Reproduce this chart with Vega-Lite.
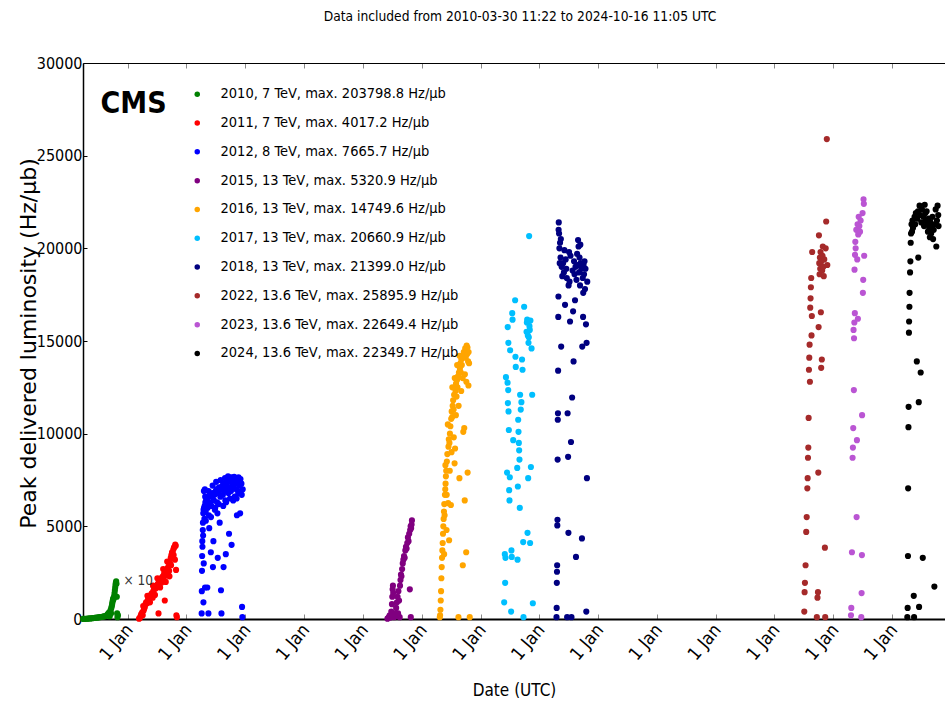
{
  "$schema": "https://vega.github.io/schema/vega-lite/v6.json",
  "width": 862,
  "height": 556,
  "autosize": {"type": "none"},
  "padding": {"left": 83, "top": 63, "right": 0, "bottom": 96},
  "background": "white",
  "title": {
    "text": "Data included from 2010-03-30 11:22 to 2024-10-16 11:05 UTC",
    "font": "Liberation Sans Narrow, DejaVu Sans Condensed, Liberation Sans",
    "fontSize": 13.7,
    "fontWeight": "normal",
    "color": "black",
    "anchor": "middle",
    "offset": 31,
    "dx": 6
  },
  "datasets": {
    "runs": [
      {"r": "2010", "label": "2010, 7 TeV, max. 203798.8 Hz/μb"},
      {"r": "2011", "label": "2011, 7 TeV, max. 4017.2 Hz/μb"},
      {"r": "2012", "label": "2012, 8 TeV, max. 7665.7 Hz/μb"},
      {"r": "2015", "label": "2015, 13 TeV, max. 5320.9 Hz/μb"},
      {"r": "2016", "label": "2016, 13 TeV, max. 14749.6 Hz/μb"},
      {"r": "2017", "label": "2017, 13 TeV, max. 20660.9 Hz/μb"},
      {"r": "2018", "label": "2018, 13 TeV, max. 21399.0 Hz/μb"},
      {"r": "2022", "label": "2022, 13.6 TeV, max. 25895.9 Hz/μb"},
      {"r": "2023", "label": "2023, 13.6 TeV, max. 22649.4 Hz/μb"},
      {"r": "2024", "label": "2024, 13.6 TeV, max. 22349.7 Hz/μb"}
    ],
    "lumi": [
      {"t": "2010-03-31", "v": 5, "r": "2010"},
      {"t": "2010-04-05", "v": 8, "r": "2010"},
      {"t": "2010-04-12", "v": 10, "r": "2010"},
      {"t": "2010-04-20", "v": 15, "r": "2010"},
      {"t": "2010-04-28", "v": 20, "r": "2010"},
      {"t": "2010-05-05", "v": 25, "r": "2010"},
      {"t": "2010-05-12", "v": 30, "r": "2010"},
      {"t": "2010-05-20", "v": 35, "r": "2010"},
      {"t": "2010-05-28", "v": 45, "r": "2010"},
      {"t": "2010-06-05", "v": 55, "r": "2010"},
      {"t": "2010-06-12", "v": 60, "r": "2010"},
      {"t": "2010-06-20", "v": 70, "r": "2010"},
      {"t": "2010-06-28", "v": 80, "r": "2010"},
      {"t": "2010-07-05", "v": 90, "r": "2010"},
      {"t": "2010-07-12", "v": 100, "r": "2010"},
      {"t": "2010-07-20", "v": 110, "r": "2010"},
      {"t": "2010-07-28", "v": 120, "r": "2010"},
      {"t": "2010-08-05", "v": 140, "r": "2010"},
      {"t": "2010-08-12", "v": 150, "r": "2010"},
      {"t": "2010-08-20", "v": 170, "r": "2010"},
      {"t": "2010-08-25", "v": 200, "r": "2010"},
      {"t": "2010-08-30", "v": 250, "r": "2010"},
      {"t": "2010-09-04", "v": 300, "r": "2010"},
      {"t": "2010-09-08", "v": 350, "r": "2010"},
      {"t": "2010-09-12", "v": 150, "r": "2010"},
      {"t": "2010-09-15", "v": 400, "r": "2010"},
      {"t": "2010-09-18", "v": 500, "r": "2010"},
      {"t": "2010-09-20", "v": 300, "r": "2010"},
      {"t": "2010-09-22", "v": 600, "r": "2010"},
      {"t": "2010-09-25", "v": 700, "r": "2010"},
      {"t": "2010-09-27", "v": 800, "r": "2010"},
      {"t": "2010-09-29", "v": 900, "r": "2010"},
      {"t": "2010-10-01", "v": 1000, "r": "2010"},
      {"t": "2010-10-03", "v": 1100, "r": "2010"},
      {"t": "2010-10-05", "v": 1050, "r": "2010"},
      {"t": "2010-10-08", "v": 1150, "r": "2010"},
      {"t": "2010-10-10", "v": 1250, "r": "2010"},
      {"t": "2010-10-12", "v": 1400, "r": "2010"},
      {"t": "2010-10-14", "v": 1550, "r": "2010"},
      {"t": "2010-10-16", "v": 1700, "r": "2010"},
      {"t": "2010-10-18", "v": 1850, "r": "2010"},
      {"t": "2010-10-20", "v": 1950, "r": "2010"},
      {"t": "2010-10-22", "v": 2037.988, "r": "2010"},
      {"t": "2010-10-24", "v": 1900, "r": "2010"},
      {"t": "2010-10-26", "v": 1200, "r": "2010"},
      {"t": "2010-10-28", "v": 300, "r": "2010"},
      {"t": "2010-10-30", "v": 100, "r": "2010"},
      {"t": "2010-11-02", "v": 200, "r": "2010"},

      {"t": "2011-03-13", "v": 20, "r": "2011"},
      {"t": "2011-03-18", "v": 50, "r": "2011"},
      {"t": "2011-03-22", "v": 150, "r": "2011"},
      {"t": "2011-03-26", "v": 250, "r": "2011"},
      {"t": "2011-04-01", "v": 350, "r": "2011"},
      {"t": "2011-04-05", "v": 200, "r": "2011"},
      {"t": "2011-04-08", "v": 700, "r": "2011"},
      {"t": "2011-04-10", "v": 450, "r": "2011"},
      {"t": "2011-04-14", "v": 550, "r": "2011"},
      {"t": "2011-04-18", "v": 650, "r": "2011"},
      {"t": "2011-04-22", "v": 800, "r": "2011"},
      {"t": "2011-04-26", "v": 900, "r": "2011"},
      {"t": "2011-05-02", "v": 850, "r": "2011"},
      {"t": "2011-05-04", "v": 1250, "r": "2011"},
      {"t": "2011-05-06", "v": 1000, "r": "2011"},
      {"t": "2011-05-10", "v": 1100, "r": "2011"},
      {"t": "2011-05-14", "v": 950, "r": "2011"},
      {"t": "2011-05-18", "v": 1200, "r": "2011"},
      {"t": "2011-05-20", "v": 900, "r": "2011"},
      {"t": "2011-05-24", "v": 1250, "r": "2011"},
      {"t": "2011-05-28", "v": 1350, "r": "2011"},
      {"t": "2011-06-02", "v": 1400, "r": "2011"},
      {"t": "2011-06-06", "v": 1150, "r": "2011"},
      {"t": "2011-06-08", "v": 1800, "r": "2011"},
      {"t": "2011-06-10", "v": 1500, "r": "2011"},
      {"t": "2011-06-14", "v": 1600, "r": "2011"},
      {"t": "2011-06-18", "v": 1700, "r": "2011"},
      {"t": "2011-06-20", "v": 1300, "r": "2011"},
      {"t": "2011-06-24", "v": 1650, "r": "2011"},
      {"t": "2011-06-28", "v": 1750, "r": "2011"},
      {"t": "2011-07-03", "v": 1800, "r": "2011"},
      {"t": "2011-07-05", "v": 2200, "r": "2011"},
      {"t": "2011-07-08", "v": 1900, "r": "2011"},
      {"t": "2011-07-12", "v": 300, "r": "2011"},
      {"t": "2011-07-16", "v": 2000, "r": "2011"},
      {"t": "2011-07-20", "v": 2100, "r": "2011"},
      {"t": "2011-07-22", "v": 1700, "r": "2011"},
      {"t": "2011-07-25", "v": 2200, "r": "2011"},
      {"t": "2011-07-30", "v": 1950, "r": "2011"},
      {"t": "2011-08-04", "v": 2100, "r": "2011"},
      {"t": "2011-08-08", "v": 2300, "r": "2011"},
      {"t": "2011-08-10", "v": 2700, "r": "2011"},
      {"t": "2011-08-12", "v": 2200, "r": "2011"},
      {"t": "2011-08-16", "v": 2450, "r": "2011"},
      {"t": "2011-08-20", "v": 1000, "r": "2011"},
      {"t": "2011-08-24", "v": 2550, "r": "2011"},
      {"t": "2011-08-26", "v": 2000, "r": "2011"},
      {"t": "2011-08-28", "v": 2350, "r": "2011"},
      {"t": "2011-09-02", "v": 2650, "r": "2011"},
      {"t": "2011-09-04", "v": 3100, "r": "2011"},
      {"t": "2011-09-06", "v": 2750, "r": "2011"},
      {"t": "2011-09-10", "v": 2500, "r": "2011"},
      {"t": "2011-09-14", "v": 2850, "r": "2011"},
      {"t": "2011-09-16", "v": 2600, "r": "2011"},
      {"t": "2011-09-18", "v": 2300, "r": "2011"},
      {"t": "2011-09-22", "v": 3000, "r": "2011"},
      {"t": "2011-09-26", "v": 3300, "r": "2011"},
      {"t": "2011-09-28", "v": 2900, "r": "2011"},
      {"t": "2011-09-30", "v": 3450, "r": "2011"},
      {"t": "2011-10-04", "v": 3600, "r": "2011"},
      {"t": "2011-10-06", "v": 3300, "r": "2011"},
      {"t": "2011-10-08", "v": 3550, "r": "2011"},
      {"t": "2011-10-12", "v": 3750, "r": "2011"},
      {"t": "2011-10-14", "v": 3450, "r": "2011"},
      {"t": "2011-10-16", "v": 3850, "r": "2011"},
      {"t": "2011-10-20", "v": 3900, "r": "2011"},
      {"t": "2011-10-22", "v": 3200, "r": "2011"},
      {"t": "2011-10-24", "v": 4017.2, "r": "2011"},
      {"t": "2011-10-27", "v": 3950, "r": "2011"},
      {"t": "2011-10-29", "v": 2650, "r": "2011"},
      {"t": "2011-10-31", "v": 200, "r": "2011"},
      {"t": "2011-11-03", "v": 100, "r": "2011"},

      {"t": "2012-04-05", "v": 300, "r": "2012"},
      {"t": "2012-04-06", "v": 1500, "r": "2012"},
      {"t": "2012-04-07", "v": 2600, "r": "2012"},
      {"t": "2012-04-08", "v": 3400, "r": "2012"},
      {"t": "2012-04-09", "v": 4200, "r": "2012"},
      {"t": "2012-04-10", "v": 3900, "r": "2012"},
      {"t": "2012-04-12", "v": 4800, "r": "2012"},
      {"t": "2012-04-13", "v": 5200, "r": "2012"},
      {"t": "2012-04-14", "v": 4500, "r": "2012"},
      {"t": "2012-04-15", "v": 5700, "r": "2012"},
      {"t": "2012-04-16", "v": 900, "r": "2012"},
      {"t": "2012-04-17", "v": 5900, "r": "2012"},
      {"t": "2012-04-18", "v": 3000, "r": "2012"},
      {"t": "2012-04-19", "v": 6900, "r": "2012"},
      {"t": "2012-04-20", "v": 6000, "r": "2012"},
      {"t": "2012-04-22", "v": 5400, "r": "2012"},
      {"t": "2012-04-24", "v": 6100, "r": "2012"},
      {"t": "2012-04-25", "v": 7000, "r": "2012"},
      {"t": "2012-04-26", "v": 1700, "r": "2012"},
      {"t": "2012-04-27", "v": 6600, "r": "2012"},
      {"t": "2012-04-28", "v": 6300, "r": "2012"},
      {"t": "2012-04-30", "v": 5800, "r": "2012"},
      {"t": "2012-05-01", "v": 5300, "r": "2012"},
      {"t": "2012-05-03", "v": 6400, "r": "2012"},
      {"t": "2012-05-05", "v": 6200, "r": "2012"},
      {"t": "2012-05-08", "v": 6500, "r": "2012"},
      {"t": "2012-05-10", "v": 1700, "r": "2012"},
      {"t": "2012-05-12", "v": 6000, "r": "2012"},
      {"t": "2012-05-15", "v": 6600, "r": "2012"},
      {"t": "2012-05-17", "v": 300, "r": "2012"},
      {"t": "2012-05-18", "v": 6900, "r": "2012"},
      {"t": "2012-05-20", "v": 5600, "r": "2012"},
      {"t": "2012-05-22", "v": 4900, "r": "2012"},
      {"t": "2012-05-25", "v": 6300, "r": "2012"},
      {"t": "2012-05-28", "v": 6700, "r": "2012"},
      {"t": "2012-06-01", "v": 3600, "r": "2012"},
      {"t": "2012-06-02", "v": 5500, "r": "2012"},
      {"t": "2012-06-04", "v": 6100, "r": "2012"},
      {"t": "2012-06-07", "v": 6600, "r": "2012"},
      {"t": "2012-06-10", "v": 6800, "r": "2012"},
      {"t": "2012-06-12", "v": 7200, "r": "2012"},
      {"t": "2012-06-14", "v": 2800, "r": "2012"},
      {"t": "2012-06-17", "v": 4200, "r": "2012"},
      {"t": "2012-06-20", "v": 6400, "r": "2012"},
      {"t": "2012-06-24", "v": 6700, "r": "2012"},
      {"t": "2012-06-26", "v": 5900, "r": "2012"},
      {"t": "2012-06-28", "v": 6000, "r": "2012"},
      {"t": "2012-07-02", "v": 6900, "r": "2012"},
      {"t": "2012-07-04", "v": 7400, "r": "2012"},
      {"t": "2012-07-06", "v": 7000, "r": "2012"},
      {"t": "2012-07-10", "v": 6300, "r": "2012"},
      {"t": "2012-07-12", "v": 5700, "r": "2012"},
      {"t": "2012-07-14", "v": 3300, "r": "2012"},
      {"t": "2012-07-18", "v": 6800, "r": "2012"},
      {"t": "2012-07-20", "v": 6200, "r": "2012"},
      {"t": "2012-07-22", "v": 7100, "r": "2012"},
      {"t": "2012-07-26", "v": 5200, "r": "2012"},
      {"t": "2012-07-30", "v": 6600, "r": "2012"},
      {"t": "2012-08-01", "v": 7500, "r": "2012"},
      {"t": "2012-08-03", "v": 1550, "r": "2012"},
      {"t": "2012-08-06", "v": 300, "r": "2012"},
      {"t": "2012-08-09", "v": 7000, "r": "2012"},
      {"t": "2012-08-12", "v": 7200, "r": "2012"},
      {"t": "2012-08-15", "v": 6700, "r": "2012"},
      {"t": "2012-08-17", "v": 6100, "r": "2012"},
      {"t": "2012-08-19", "v": 2800, "r": "2012"},
      {"t": "2012-08-23", "v": 6900, "r": "2012"},
      {"t": "2012-08-26", "v": 7300, "r": "2012"},
      {"t": "2012-08-28", "v": 7600, "r": "2012"},
      {"t": "2012-08-30", "v": 6400, "r": "2012"},
      {"t": "2012-09-02", "v": 3500, "r": "2012"},
      {"t": "2012-09-04", "v": 6300, "r": "2012"},
      {"t": "2012-09-06", "v": 7200, "r": "2012"},
      {"t": "2012-09-10", "v": 7000, "r": "2012"},
      {"t": "2012-09-14", "v": 7400, "r": "2012"},
      {"t": "2012-09-16", "v": 7700, "r": "2012"},
      {"t": "2012-09-18", "v": 6800, "r": "2012"},
      {"t": "2012-09-22", "v": 4600, "r": "2012"},
      {"t": "2012-09-26", "v": 7100, "r": "2012"},
      {"t": "2012-09-28", "v": 6500, "r": "2012"},
      {"t": "2012-09-30", "v": 7500, "r": "2012"},
      {"t": "2012-10-04", "v": 6900, "r": "2012"},
      {"t": "2012-10-06", "v": 7650, "r": "2012"},
      {"t": "2012-10-08", "v": 4000, "r": "2012"},
      {"t": "2012-10-12", "v": 7300, "r": "2012"},
      {"t": "2012-10-16", "v": 7600, "r": "2012"},
      {"t": "2012-10-18", "v": 6400, "r": "2012"},
      {"t": "2012-10-20", "v": 7100, "r": "2012"},
      {"t": "2012-10-24", "v": 7665.7, "r": "2012"},
      {"t": "2012-10-28", "v": 6600, "r": "2012"},
      {"t": "2012-10-30", "v": 7600, "r": "2012"},
      {"t": "2012-11-02", "v": 7400, "r": "2012"},
      {"t": "2012-11-06", "v": 7000, "r": "2012"},
      {"t": "2012-11-08", "v": 6500, "r": "2012"},
      {"t": "2012-11-10", "v": 5600, "r": "2012"},
      {"t": "2012-11-14", "v": 7300, "r": "2012"},
      {"t": "2012-11-18", "v": 6800, "r": "2012"},
      {"t": "2012-11-20", "v": 7650, "r": "2012"},
      {"t": "2012-11-22", "v": 7500, "r": "2012"},
      {"t": "2012-11-26", "v": 7200, "r": "2012"},
      {"t": "2012-11-30", "v": 5700, "r": "2012"},
      {"t": "2012-12-02", "v": 7550, "r": "2012"},
      {"t": "2012-12-04", "v": 6900, "r": "2012"},
      {"t": "2012-12-08", "v": 7300, "r": "2012"},
      {"t": "2012-12-10", "v": 6700, "r": "2012"},
      {"t": "2012-12-12", "v": 650, "r": "2012"},
      {"t": "2012-12-14", "v": 100, "r": "2012"},
      {"t": "2012-12-16", "v": 7000, "r": "2012"},

      {"t": "2015-06-03", "v": 20, "r": "2015"},
      {"t": "2015-06-08", "v": 50, "r": "2015"},
      {"t": "2015-06-12", "v": 100, "r": "2015"},
      {"t": "2015-06-17", "v": 200, "r": "2015"},
      {"t": "2015-06-22", "v": 80, "r": "2015"},
      {"t": "2015-06-27", "v": 400, "r": "2015"},
      {"t": "2015-07-01", "v": 800, "r": "2015"},
      {"t": "2015-07-03", "v": 1200, "r": "2015"},
      {"t": "2015-07-05", "v": 1600, "r": "2015"},
      {"t": "2015-07-07", "v": 1800, "r": "2015"},
      {"t": "2015-07-09", "v": 1400, "r": "2015"},
      {"t": "2015-07-11", "v": 300, "r": "2015"},
      {"t": "2015-07-15", "v": 100, "r": "2015"},
      {"t": "2015-07-22", "v": 200, "r": "2015"},
      {"t": "2015-07-27", "v": 600, "r": "2015"},
      {"t": "2015-08-01", "v": 900, "r": "2015"},
      {"t": "2015-08-05", "v": 1200, "r": "2015"},
      {"t": "2015-08-08", "v": 300, "r": "2015"},
      {"t": "2015-08-10", "v": 1500, "r": "2015"},
      {"t": "2015-08-14", "v": 1000, "r": "2015"},
      {"t": "2015-08-18", "v": 100, "r": "2015"},
      {"t": "2015-08-20", "v": 1800, "r": "2015"},
      {"t": "2015-08-23", "v": 2100, "r": "2015"},
      {"t": "2015-08-26", "v": 2400, "r": "2015"},
      {"t": "2015-08-29", "v": 2300, "r": "2015"},
      {"t": "2015-09-02", "v": 2700, "r": "2015"},
      {"t": "2015-09-06", "v": 3000, "r": "2015"},
      {"t": "2015-09-10", "v": 3200, "r": "2015"},
      {"t": "2015-09-14", "v": 3400, "r": "2015"},
      {"t": "2015-09-18", "v": 3300, "r": "2015"},
      {"t": "2015-09-22", "v": 3700, "r": "2015"},
      {"t": "2015-09-26", "v": 3900, "r": "2015"},
      {"t": "2015-09-30", "v": 3800, "r": "2015"},
      {"t": "2015-10-04", "v": 4100, "r": "2015"},
      {"t": "2015-10-08", "v": 4400, "r": "2015"},
      {"t": "2015-10-12", "v": 4200, "r": "2015"},
      {"t": "2015-10-16", "v": 4600, "r": "2015"},
      {"t": "2015-10-20", "v": 1600, "r": "2015"},
      {"t": "2015-10-22", "v": 4800, "r": "2015"},
      {"t": "2015-10-25", "v": 5000, "r": "2015"},
      {"t": "2015-10-26", "v": 100, "r": "2015"},
      {"t": "2015-10-28", "v": 4900, "r": "2015"},
      {"t": "2015-10-31", "v": 5100, "r": "2015"},
      {"t": "2015-11-02", "v": 5320.9, "r": "2015"},

      {"t": "2016-04-23", "v": 100, "r": "2016"},
      {"t": "2016-04-25", "v": 200, "r": "2016"},
      {"t": "2016-04-27", "v": 500, "r": "2016"},
      {"t": "2016-04-29", "v": 1000, "r": "2016"},
      {"t": "2016-05-01", "v": 1500, "r": "2016"},
      {"t": "2016-05-03", "v": 2200, "r": "2016"},
      {"t": "2016-05-05", "v": 2800, "r": "2016"},
      {"t": "2016-05-07", "v": 3300, "r": "2016"},
      {"t": "2016-05-09", "v": 3700, "r": "2016"},
      {"t": "2016-05-11", "v": 4100, "r": "2016"},
      {"t": "2016-05-13", "v": 4600, "r": "2016"},
      {"t": "2016-05-15", "v": 5000, "r": "2016"},
      {"t": "2016-05-17", "v": 5400, "r": "2016"},
      {"t": "2016-05-19", "v": 5800, "r": "2016"},
      {"t": "2016-05-20", "v": 3500, "r": "2016"},
      {"t": "2016-05-21", "v": 6200, "r": "2016"},
      {"t": "2016-05-23", "v": 5600, "r": "2016"},
      {"t": "2016-05-25", "v": 6700, "r": "2016"},
      {"t": "2016-05-27", "v": 7000, "r": "2016"},
      {"t": "2016-05-28", "v": 8300, "r": "2016"},
      {"t": "2016-05-29", "v": 7300, "r": "2016"},
      {"t": "2016-05-31", "v": 7700, "r": "2016"},
      {"t": "2016-06-02", "v": 8000, "r": "2016"},
      {"t": "2016-06-04", "v": 4800, "r": "2016"},
      {"t": "2016-06-05", "v": 6700, "r": "2016"},
      {"t": "2016-06-06", "v": 8500, "r": "2016"},
      {"t": "2016-06-09", "v": 8900, "r": "2016"},
      {"t": "2016-06-12", "v": 10500, "r": "2016"},
      {"t": "2016-06-14", "v": 6250, "r": "2016"},
      {"t": "2016-06-16", "v": 9300, "r": "2016"},
      {"t": "2016-06-18", "v": 9700, "r": "2016"},
      {"t": "2016-06-20", "v": 4250, "r": "2016"},
      {"t": "2016-06-22", "v": 9500, "r": "2016"},
      {"t": "2016-06-24", "v": 8000, "r": "2016"},
      {"t": "2016-06-25", "v": 10000, "r": "2016"},
      {"t": "2016-06-28", "v": 10400, "r": "2016"},
      {"t": "2016-07-01", "v": 6150, "r": "2016"},
      {"t": "2016-07-03", "v": 10800, "r": "2016"},
      {"t": "2016-07-05", "v": 9000, "r": "2016"},
      {"t": "2016-07-06", "v": 11200, "r": "2016"},
      {"t": "2016-07-09", "v": 10900, "r": "2016"},
      {"t": "2016-07-10", "v": 12500, "r": "2016"},
      {"t": "2016-07-12", "v": 11500, "r": "2016"},
      {"t": "2016-07-15", "v": 11800, "r": "2016"},
      {"t": "2016-07-18", "v": 11300, "r": "2016"},
      {"t": "2016-07-19", "v": 9800, "r": "2016"},
      {"t": "2016-07-21", "v": 12100, "r": "2016"},
      {"t": "2016-07-24", "v": 8400, "r": "2016"},
      {"t": "2016-07-25", "v": 13000, "r": "2016"},
      {"t": "2016-07-27", "v": 9200, "r": "2016"},
      {"t": "2016-07-30", "v": 12300, "r": "2016"},
      {"t": "2016-08-01", "v": 11000, "r": "2016"},
      {"t": "2016-08-02", "v": 12700, "r": "2016"},
      {"t": "2016-08-05", "v": 12000, "r": "2016"},
      {"t": "2016-08-08", "v": 12900, "r": "2016"},
      {"t": "2016-08-09", "v": 13700, "r": "2016"},
      {"t": "2016-08-11", "v": 12500, "r": "2016"},
      {"t": "2016-08-14", "v": 13100, "r": "2016"},
      {"t": "2016-08-17", "v": 100, "r": "2016"},
      {"t": "2016-08-18", "v": 11500, "r": "2016"},
      {"t": "2016-08-20", "v": 13300, "r": "2016"},
      {"t": "2016-08-23", "v": 7600, "r": "2016"},
      {"t": "2016-08-24", "v": 14200, "r": "2016"},
      {"t": "2016-08-26", "v": 13500, "r": "2016"},
      {"t": "2016-08-29", "v": 13800, "r": "2016"},
      {"t": "2016-09-01", "v": 13300, "r": "2016"},
      {"t": "2016-09-03", "v": 12300, "r": "2016"},
      {"t": "2016-09-04", "v": 14000, "r": "2016"},
      {"t": "2016-09-07", "v": 13700, "r": "2016"},
      {"t": "2016-09-10", "v": 14200, "r": "2016"},
      {"t": "2016-09-12", "v": 13000, "r": "2016"},
      {"t": "2016-09-13", "v": 2900, "r": "2016"},
      {"t": "2016-09-16", "v": 10100, "r": "2016"},
      {"t": "2016-09-19", "v": 14400, "r": "2016"},
      {"t": "2016-09-22", "v": 10300, "r": "2016"},
      {"t": "2016-09-25", "v": 6400, "r": "2016"},
      {"t": "2016-09-26", "v": 13200, "r": "2016"},
      {"t": "2016-09-28", "v": 14600, "r": "2016"},
      {"t": "2016-10-01", "v": 14100, "r": "2016"},
      {"t": "2016-10-04", "v": 3600, "r": "2016"},
      {"t": "2016-10-05", "v": 12800, "r": "2016"},
      {"t": "2016-10-07", "v": 14749.6, "r": "2016"},
      {"t": "2016-10-10", "v": 14300, "r": "2016"},
      {"t": "2016-10-12", "v": 14650, "r": "2016"},
      {"t": "2016-10-13", "v": 7900, "r": "2016"},
      {"t": "2016-10-16", "v": 13900, "r": "2016"},
      {"t": "2016-10-18", "v": 12600, "r": "2016"},
      {"t": "2016-10-19", "v": 14400, "r": "2016"},
      {"t": "2016-10-22", "v": 13800, "r": "2016"},
      {"t": "2016-10-26", "v": 100, "r": "2016"},

      {"t": "2017-05-28", "v": 900, "r": "2017"},
      {"t": "2017-06-01", "v": 3500, "r": "2017"},
      {"t": "2017-06-03", "v": 1950, "r": "2017"},
      {"t": "2017-06-05", "v": 3300, "r": "2017"},
      {"t": "2017-06-08", "v": 13050, "r": "2017"},
      {"t": "2017-06-15", "v": 7900, "r": "2017"},
      {"t": "2017-06-18", "v": 12750, "r": "2017"},
      {"t": "2017-06-19", "v": 15750, "r": "2017"},
      {"t": "2017-06-20", "v": 11650, "r": "2017"},
      {"t": "2017-06-22", "v": 12350, "r": "2017"},
      {"t": "2017-06-23", "v": 14900, "r": "2017"},
      {"t": "2017-06-24", "v": 11200, "r": "2017"},
      {"t": "2017-06-26", "v": 10200, "r": "2017"},
      {"t": "2017-06-28", "v": 6950, "r": "2017"},
      {"t": "2017-06-30", "v": 6400, "r": "2017"},
      {"t": "2017-07-02", "v": 7650, "r": "2017"},
      {"t": "2017-07-04", "v": 14500, "r": "2017"},
      {"t": "2017-07-10", "v": 400, "r": "2017"},
      {"t": "2017-07-12", "v": 3700, "r": "2017"},
      {"t": "2017-07-14", "v": 3350, "r": "2017"},
      {"t": "2017-07-17", "v": 16500, "r": "2017"},
      {"t": "2017-07-19", "v": 16150, "r": "2017"},
      {"t": "2017-07-23", "v": 9650, "r": "2017"},
      {"t": "2017-08-04", "v": 17200, "r": "2017"},
      {"t": "2017-08-06", "v": 14150, "r": "2017"},
      {"t": "2017-08-08", "v": 13600, "r": "2017"},
      {"t": "2017-08-17", "v": 8150, "r": "2017"},
      {"t": "2017-08-19", "v": 3200, "r": "2017"},
      {"t": "2017-08-21", "v": 7150, "r": "2017"},
      {"t": "2017-08-23", "v": 10750, "r": "2017"},
      {"t": "2017-08-25", "v": 10100, "r": "2017"},
      {"t": "2017-08-27", "v": 9500, "r": "2017"},
      {"t": "2017-08-29", "v": 9100, "r": "2017"},
      {"t": "2017-08-31", "v": 8600, "r": "2017"},
      {"t": "2017-09-02", "v": 6000, "r": "2017"},
      {"t": "2017-09-04", "v": 12100, "r": "2017"},
      {"t": "2017-09-08", "v": 11300, "r": "2017"},
      {"t": "2017-09-12", "v": 11700, "r": "2017"},
      {"t": "2017-09-16", "v": 14000, "r": "2017"},
      {"t": "2017-09-19", "v": 13450, "r": "2017"},
      {"t": "2017-09-23", "v": 4150, "r": "2017"},
      {"t": "2017-09-25", "v": 100, "r": "2017"},
      {"t": "2017-09-29", "v": 16850, "r": "2017"},
      {"t": "2017-10-14", "v": 15500, "r": "2017"},
      {"t": "2017-10-16", "v": 16000, "r": "2017"},
      {"t": "2017-10-18", "v": 16150, "r": "2017"},
      {"t": "2017-10-20", "v": 4650, "r": "2017"},
      {"t": "2017-10-22", "v": 15300, "r": "2017"},
      {"t": "2017-10-24", "v": 7600, "r": "2017"},
      {"t": "2017-10-26", "v": 14900, "r": "2017"},
      {"t": "2017-10-28", "v": 15200, "r": "2017"},
      {"t": "2017-10-30", "v": 20660.9, "r": "2017"},
      {"t": "2017-11-01", "v": 15800, "r": "2017"},
      {"t": "2017-11-03", "v": 15600, "r": "2017"},
      {"t": "2017-11-05", "v": 4100, "r": "2017"},
      {"t": "2017-11-07", "v": 16100, "r": "2017"},
      {"t": "2017-11-10", "v": 8200, "r": "2017"},
      {"t": "2017-11-14", "v": 14600, "r": "2017"},
      {"t": "2017-11-18", "v": 12100, "r": "2017"},
      {"t": "2017-11-22", "v": 850, "r": "2017"},

      {"t": "2018-04-18", "v": 100, "r": "2018"},
      {"t": "2018-04-19", "v": 600, "r": "2018"},
      {"t": "2018-04-20", "v": 1950, "r": "2018"},
      {"t": "2018-04-21", "v": 2550, "r": "2018"},
      {"t": "2018-04-22", "v": 2900, "r": "2018"},
      {"t": "2018-04-23", "v": 5050, "r": "2018"},
      {"t": "2018-04-24", "v": 5350, "r": "2018"},
      {"t": "2018-04-25", "v": 8600, "r": "2018"},
      {"t": "2018-04-26", "v": 10750, "r": "2018"},
      {"t": "2018-04-27", "v": 11100, "r": "2018"},
      {"t": "2018-04-28", "v": 13400, "r": "2018"},
      {"t": "2018-04-29", "v": 16300, "r": "2018"},
      {"t": "2018-04-30", "v": 17400, "r": "2018"},
      {"t": "2018-05-01", "v": 21000, "r": "2018"},
      {"t": "2018-05-02", "v": 21399.0, "r": "2018"},
      {"t": "2018-05-04", "v": 20800, "r": "2018"},
      {"t": "2018-05-06", "v": 20000, "r": "2018"},
      {"t": "2018-05-08", "v": 19200, "r": "2018"},
      {"t": "2018-05-10", "v": 20300, "r": "2018"},
      {"t": "2018-05-13", "v": 19500, "r": "2018"},
      {"t": "2018-05-15", "v": 20500, "r": "2018"},
      {"t": "2018-05-17", "v": 14700, "r": "2018"},
      {"t": "2018-05-20", "v": 19000, "r": "2018"},
      {"t": "2018-05-24", "v": 18500, "r": "2018"},
      {"t": "2018-05-29", "v": 19200, "r": "2018"},
      {"t": "2018-06-03", "v": 18700, "r": "2018"},
      {"t": "2018-06-06", "v": 19900, "r": "2018"},
      {"t": "2018-06-10", "v": 16950, "r": "2018"},
      {"t": "2018-06-14", "v": 19400, "r": "2018"},
      {"t": "2018-06-18", "v": 18900, "r": "2018"},
      {"t": "2018-06-21", "v": 18400, "r": "2018"},
      {"t": "2018-06-23", "v": 100, "r": "2018"},
      {"t": "2018-06-26", "v": 11100, "r": "2018"},
      {"t": "2018-06-29", "v": 8750, "r": "2018"},
      {"t": "2018-07-01", "v": 4650, "r": "2018"},
      {"t": "2018-07-02", "v": 18000, "r": "2018"},
      {"t": "2018-07-05", "v": 19800, "r": "2018"},
      {"t": "2018-07-08", "v": 18200, "r": "2018"},
      {"t": "2018-07-11", "v": 16050, "r": "2018"},
      {"t": "2018-07-14", "v": 19600, "r": "2018"},
      {"t": "2018-07-17", "v": 9550, "r": "2018"},
      {"t": "2018-07-20", "v": 100, "r": "2018"},
      {"t": "2018-07-24", "v": 11950, "r": "2018"},
      {"t": "2018-07-27", "v": 18800, "r": "2018"},
      {"t": "2018-07-30", "v": 16600, "r": "2018"},
      {"t": "2018-08-02", "v": 13900, "r": "2018"},
      {"t": "2018-08-05", "v": 19300, "r": "2018"},
      {"t": "2018-08-08", "v": 18600, "r": "2018"},
      {"t": "2018-08-11", "v": 17200, "r": "2018"},
      {"t": "2018-08-14", "v": 19000, "r": "2018"},
      {"t": "2018-08-17", "v": 3350, "r": "2018"},
      {"t": "2018-08-20", "v": 18300, "r": "2018"},
      {"t": "2018-08-24", "v": 19700, "r": "2018"},
      {"t": "2018-08-27", "v": 19100, "r": "2018"},
      {"t": "2018-08-30", "v": 20450, "r": "2018"},
      {"t": "2018-09-02", "v": 20100, "r": "2018"},
      {"t": "2018-09-05", "v": 18700, "r": "2018"},
      {"t": "2018-09-08", "v": 19500, "r": "2018"},
      {"t": "2018-09-11", "v": 18000, "r": "2018"},
      {"t": "2018-09-13", "v": 20200, "r": "2018"},
      {"t": "2018-09-15", "v": 19200, "r": "2018"},
      {"t": "2018-09-19", "v": 18900, "r": "2018"},
      {"t": "2018-09-23", "v": 4350, "r": "2018"},
      {"t": "2018-09-25", "v": 14700, "r": "2018"},
      {"t": "2018-09-28", "v": 18400, "r": "2018"},
      {"t": "2018-09-30", "v": 16300, "r": "2018"},
      {"t": "2018-10-01", "v": 17600, "r": "2018"},
      {"t": "2018-10-03", "v": 19100, "r": "2018"},
      {"t": "2018-10-06", "v": 18600, "r": "2018"},
      {"t": "2018-10-09", "v": 19300, "r": "2018"},
      {"t": "2018-10-12", "v": 17800, "r": "2018"},
      {"t": "2018-10-15", "v": 18900, "r": "2018"},
      {"t": "2018-10-18", "v": 15900, "r": "2018"},
      {"t": "2018-10-20", "v": 400, "r": "2018"},
      {"t": "2018-10-22", "v": 14900, "r": "2018"},
      {"t": "2018-10-24", "v": 7600, "r": "2018"},
      {"t": "2018-10-26", "v": 18200, "r": "2018"},

      {"t": "2022-07-05", "v": 400, "r": "2022"},
      {"t": "2022-07-07", "v": 1450, "r": "2022"},
      {"t": "2022-07-09", "v": 1950, "r": "2022"},
      {"t": "2022-07-13", "v": 2900, "r": "2022"},
      {"t": "2022-07-17", "v": 4700, "r": "2022"},
      {"t": "2022-07-20", "v": 5500, "r": "2022"},
      {"t": "2022-07-24", "v": 7050, "r": "2022"},
      {"t": "2022-07-26", "v": 7600, "r": "2022"},
      {"t": "2022-07-28", "v": 8700, "r": "2022"},
      {"t": "2022-07-30", "v": 9250, "r": "2022"},
      {"t": "2022-08-01", "v": 10850, "r": "2022"},
      {"t": "2022-08-03", "v": 13450, "r": "2022"},
      {"t": "2022-08-05", "v": 14100, "r": "2022"},
      {"t": "2022-08-07", "v": 14800, "r": "2022"},
      {"t": "2022-08-09", "v": 12800, "r": "2022"},
      {"t": "2022-08-11", "v": 16800, "r": "2022"},
      {"t": "2022-08-13", "v": 17300, "r": "2022"},
      {"t": "2022-08-15", "v": 17900, "r": "2022"},
      {"t": "2022-08-17", "v": 18400, "r": "2022"},
      {"t": "2022-08-19", "v": 15300, "r": "2022"},
      {"t": "2022-08-21", "v": 16350, "r": "2022"},
      {"t": "2022-08-23", "v": 19800, "r": "2022"},
      {"t": "2022-09-21", "v": 100, "r": "2022"},
      {"t": "2022-09-25", "v": 1150, "r": "2022"},
      {"t": "2022-09-28", "v": 1450, "r": "2022"},
      {"t": "2022-09-30", "v": 7900, "r": "2022"},
      {"t": "2022-10-02", "v": 15750, "r": "2022"},
      {"t": "2022-10-04", "v": 20700, "r": "2022"},
      {"t": "2022-10-06", "v": 19200, "r": "2022"},
      {"t": "2022-10-08", "v": 18600, "r": "2022"},
      {"t": "2022-10-10", "v": 19500, "r": "2022"},
      {"t": "2022-10-12", "v": 18900, "r": "2022"},
      {"t": "2022-10-14", "v": 19800, "r": "2022"},
      {"t": "2022-10-16", "v": 16550, "r": "2022"},
      {"t": "2022-10-18", "v": 13550, "r": "2022"},
      {"t": "2022-10-20", "v": 19300, "r": "2022"},
      {"t": "2022-10-22", "v": 14000, "r": "2022"},
      {"t": "2022-10-24", "v": 18800, "r": "2022"},
      {"t": "2022-10-26", "v": 19600, "r": "2022"},
      {"t": "2022-10-28", "v": 20100, "r": "2022"},
      {"t": "2022-10-31", "v": 19000, "r": "2022"},
      {"t": "2022-11-03", "v": 18500, "r": "2022"},
      {"t": "2022-11-06", "v": 19400, "r": "2022"},
      {"t": "2022-11-10", "v": 3850, "r": "2022"},
      {"t": "2022-11-12", "v": 100, "r": "2022"},
      {"t": "2022-11-15", "v": 20000, "r": "2022"},
      {"t": "2022-11-18", "v": 21450, "r": "2022"},
      {"t": "2022-11-22", "v": 25895.9, "r": "2022"},
      {"t": "2022-11-25", "v": 19100, "r": "2022"},

      {"t": "2023-04-21", "v": 200, "r": "2023"},
      {"t": "2023-04-23", "v": 600, "r": "2023"},
      {"t": "2023-04-27", "v": 3600, "r": "2023"},
      {"t": "2023-05-01", "v": 8700, "r": "2023"},
      {"t": "2023-05-03", "v": 9250, "r": "2023"},
      {"t": "2023-05-05", "v": 10300, "r": "2023"},
      {"t": "2023-05-07", "v": 15600, "r": "2023"},
      {"t": "2023-05-09", "v": 12350, "r": "2023"},
      {"t": "2023-05-10", "v": 15150, "r": "2023"},
      {"t": "2023-05-12", "v": 16000, "r": "2023"},
      {"t": "2023-05-13", "v": 18850, "r": "2023"},
      {"t": "2023-05-15", "v": 16500, "r": "2023"},
      {"t": "2023-05-16", "v": 19650, "r": "2023"},
      {"t": "2023-05-18", "v": 20350, "r": "2023"},
      {"t": "2023-05-20", "v": 20000, "r": "2023"},
      {"t": "2023-05-24", "v": 21000, "r": "2023"},
      {"t": "2023-05-26", "v": 5500, "r": "2023"},
      {"t": "2023-05-28", "v": 9650, "r": "2023"},
      {"t": "2023-05-30", "v": 19400, "r": "2023"},
      {"t": "2023-06-01", "v": 21300, "r": "2023"},
      {"t": "2023-06-03", "v": 16200, "r": "2023"},
      {"t": "2023-06-05", "v": 20750, "r": "2023"},
      {"t": "2023-06-08", "v": 21700, "r": "2023"},
      {"t": "2023-06-12", "v": 21200, "r": "2023"},
      {"t": "2023-06-16", "v": 20900, "r": "2023"},
      {"t": "2023-06-20", "v": 21500, "r": "2023"},
      {"t": "2023-06-24", "v": 100, "r": "2023"},
      {"t": "2023-06-26", "v": 1400, "r": "2023"},
      {"t": "2023-06-28", "v": 3450, "r": "2023"},
      {"t": "2023-06-29", "v": 11000, "r": "2023"},
      {"t": "2023-07-02", "v": 21900, "r": "2023"},
      {"t": "2023-07-04", "v": 17600, "r": "2023"},
      {"t": "2023-07-06", "v": 18300, "r": "2023"},
      {"t": "2023-07-08", "v": 22649.4, "r": "2023"},
      {"t": "2023-07-10", "v": 22400, "r": "2023"},
      {"t": "2023-07-12", "v": 19600, "r": "2023"},

      {"t": "2024-04-05", "v": 100, "r": "2024"},
      {"t": "2024-04-07", "v": 600, "r": "2024"},
      {"t": "2024-04-09", "v": 3400, "r": "2024"},
      {"t": "2024-04-10", "v": 7050, "r": "2024"},
      {"t": "2024-04-12", "v": 10350, "r": "2024"},
      {"t": "2024-04-13", "v": 11450, "r": "2024"},
      {"t": "2024-04-15", "v": 15450, "r": "2024"},
      {"t": "2024-04-16", "v": 16050, "r": "2024"},
      {"t": "2024-04-18", "v": 16850, "r": "2024"},
      {"t": "2024-04-19", "v": 17600, "r": "2024"},
      {"t": "2024-04-22", "v": 18700, "r": "2024"},
      {"t": "2024-04-24", "v": 19300, "r": "2024"},
      {"t": "2024-04-26", "v": 20300, "r": "2024"},
      {"t": "2024-04-28", "v": 20800, "r": "2024"},
      {"t": "2024-05-01", "v": 21300, "r": "2024"},
      {"t": "2024-05-04", "v": 20900, "r": "2024"},
      {"t": "2024-05-07", "v": 21500, "r": "2024"},
      {"t": "2024-05-10", "v": 21100, "r": "2024"},
      {"t": "2024-05-15", "v": 1250, "r": "2024"},
      {"t": "2024-05-17", "v": 100, "r": "2024"},
      {"t": "2024-05-20", "v": 21700, "r": "2024"},
      {"t": "2024-05-24", "v": 21300, "r": "2024"},
      {"t": "2024-05-28", "v": 21900, "r": "2024"},
      {"t": "2024-06-03", "v": 13900, "r": "2024"},
      {"t": "2024-06-06", "v": 21600, "r": "2024"},
      {"t": "2024-06-10", "v": 22000, "r": "2024"},
      {"t": "2024-06-12", "v": 19500, "r": "2024"},
      {"t": "2024-06-15", "v": 11700, "r": "2024"},
      {"t": "2024-06-17", "v": 650, "r": "2024"},
      {"t": "2024-06-20", "v": 22300, "r": "2024"},
      {"t": "2024-06-24", "v": 21800, "r": "2024"},
      {"t": "2024-06-27", "v": 13300, "r": "2024"},
      {"t": "2024-07-01", "v": 21400, "r": "2024"},
      {"t": "2024-07-05", "v": 22100, "r": "2024"},
      {"t": "2024-07-10", "v": 3300, "r": "2024"},
      {"t": "2024-07-14", "v": 21700, "r": "2024"},
      {"t": "2024-07-18", "v": 21200, "r": "2024"},
      {"t": "2024-07-22", "v": 22349.7, "r": "2024"},
      {"t": "2024-07-26", "v": 21900, "r": "2024"},
      {"t": "2024-07-30", "v": 21500, "r": "2024"},
      {"t": "2024-08-03", "v": 22000, "r": "2024"},
      {"t": "2024-08-07", "v": 21300, "r": "2024"},
      {"t": "2024-08-11", "v": 20900, "r": "2024"},
      {"t": "2024-08-15", "v": 21600, "r": "2024"},
      {"t": "2024-08-19", "v": 21100, "r": "2024"},
      {"t": "2024-08-23", "v": 20600, "r": "2024"},
      {"t": "2024-08-27", "v": 21400, "r": "2024"},
      {"t": "2024-08-31", "v": 20800, "r": "2024"},
      {"t": "2024-09-04", "v": 21200, "r": "2024"},
      {"t": "2024-09-08", "v": 21700, "r": "2024"},
      {"t": "2024-09-12", "v": 20500, "r": "2024"},
      {"t": "2024-09-16", "v": 21000, "r": "2024"},
      {"t": "2024-09-20", "v": 1750, "r": "2024"},
      {"t": "2024-09-24", "v": 21300, "r": "2024"},
      {"t": "2024-09-28", "v": 22100, "r": "2024"},
      {"t": "2024-10-02", "v": 20100, "r": "2024"},
      {"t": "2024-10-06", "v": 21500, "r": "2024"},
      {"t": "2024-10-10", "v": 22300, "r": "2024"},
      {"t": "2024-10-14", "v": 21800, "r": "2024"},
      {"t": "2024-10-16", "v": 21200, "r": "2024"}
    ]
  },
  "layer": [
    {
      "data": {"name": "lumi"},
      "transform": [
        {"lookup": "r", "from": {"data": {"name": "runs"}, "key": "r", "fields": ["label"]}}
      ],
      "mark": {"type": "circle", "size": 38, "opacity": 1},
      "encoding": {
        "x": {
          "field": "t",
          "type": "temporal",
          "title": "Date (UTC)",
          "scale": {
            "type": "utc",
            "nice": false,
            "domain": [
              {"year": 2010, "month": 3, "date": 30, "utc": true},
              {"year": 2024, "month": 11, "date": 25, "utc": true}
            ]
          },
          "axis": {
            "orient": "bottom",
            "grid": false,
            "tickCount": {"interval": "year", "step": 1},
            "format": "%-d %b",
            "labelAngle": -50,
            "labelAlign": "right",
            "labelBaseline": "top",
            "labelFont": "Liberation Sans Narrow, DejaVu Sans Condensed, Liberation Sans",
            "labelFontSize": 18,
            "labelColor": "black",
            "labelPadding": 7,
            "labelOffset": -5,
            "labelOverlap": false,
            "labelFlush": false,
            "tickSize": -5,
            "tickColor": "#888888",
            "tickWidth": 1,
            "domainColor": "black",
            "domainWidth": 2,
            "titleFont": "Liberation Sans Narrow, DejaVu Sans Condensed, Liberation Sans",
            "titleFontSize": 17,
            "titleFontWeight": "normal",
            "titleColor": "black",
            "titlePadding": 19
          }
        },
        "y": {
          "field": "v",
          "type": "quantitative",
          "title": "Peak delivered luminosity (Hz/μb)",
          "scale": {"domain": [0, 30000], "nice": false, "zero": true},
          "axis": {
            "orient": "left",
            "grid": false,
            "values": [0, 5000, 10000, 15000, 20000, 25000, 30000],
            "format": "d",
            "labelFont": "Liberation Sans Narrow, DejaVu Sans Condensed, Liberation Sans",
            "labelFontSize": 16,
            "labelColor": "black",
            "labelPadding": 5,
            "tickSize": -4,
            "tickColor": "black",
            "domainColor": "black",
            "domainWidth": 1.5,
            "titleFont": "DejaVu Sans",
            "titleFontSize": 22,
            "titleFontWeight": "normal",
            "titleColor": "black",
            "titleAngle": -90,
            "titleX": -48,
            "titleY": 280,
            "titleAlign": "center",
            "titleBaseline": "alphabetic"
          }
        },
        "color": {
          "field": "label",
          "type": "nominal",
          "scale": {
            "domain": [
              "2010, 7 TeV, max. 203798.8 Hz/μb",
              "2011, 7 TeV, max. 4017.2 Hz/μb",
              "2012, 8 TeV, max. 7665.7 Hz/μb",
              "2015, 13 TeV, max. 5320.9 Hz/μb",
              "2016, 13 TeV, max. 14749.6 Hz/μb",
              "2017, 13 TeV, max. 20660.9 Hz/μb",
              "2018, 13 TeV, max. 21399.0 Hz/μb",
              "2022, 13.6 TeV, max. 25895.9 Hz/μb",
              "2023, 13.6 TeV, max. 22649.4 Hz/μb",
              "2024, 13.6 TeV, max. 22349.7 Hz/μb"
            ],
            "range": ["#008000", "#ff0000", "#0000ff", "#800080", "#ffa500", "#00bfff", "#000080", "#a52a2a", "#ba55d3", "#000000"]
          },
          "legend": {
            "title": null,
            "orient": "none",
            "legendX": 107,
            "legendY": 24,
            "symbolType": "circle",
            "symbolSize": 30,
            "symbolStrokeWidth": 0,
            "labelFont": "Liberation Sans Narrow, DejaVu Sans Condensed, Liberation Sans",
            "labelFontSize": 14.5,
            "labelColor": "black",
            "labelLimit": 400,
            "labelOffset": 16,
            "rowPadding": 13.8
          }
        }
      }
    },
    {
      "data": {"values": [{}]},
      "mark": {
        "type": "text",
        "align": "left",
        "baseline": "alphabetic",
        "font": "Liberation Sans Narrow, DejaVu Sans Condensed, Liberation Sans",
        "fontSize": 13.5,
        "color": "#333333"
      },
      "encoding": {
        "x": {
          "datum": {"year": 2010, "month": 12, "date": 7, "utc": true},
          "type": "temporal",
          "axis": {
            "orient": "top",
            "title": null,
            "labels": false,
            "grid": false,
            "tickCount": {"interval": "year", "step": 1},
            "tickSize": -5,
            "tickColor": "#888888",
            "domainColor": "black",
            "domainWidth": 1
          }
        },
        "y": {"datum": 1835, "type": "quantitative"},
        "text": {"value": "× 10"}
      }
    },
    {
      "data": {"values": [{}]},
      "mark": {
        "type": "text",
        "align": "left",
        "baseline": "alphabetic",
        "font": "Liberation Sans Narrow, DejaVu Sans Condensed, Liberation Sans",
        "fontSize": 30,
        "fontWeight": "bold",
        "color": "black"
      },
      "encoding": {
        "x": {"datum": {"year": 2010, "month": 7, "date": 17, "utc": true}, "type": "temporal", "axis": null},
        "y": {"datum": 27300, "type": "quantitative"},
        "text": {"value": "CMS"}
      }
    }
  ],
  "resolve": {"axis": {"x": "independent"}},
  "config": {"view": {"stroke": null}}
}
